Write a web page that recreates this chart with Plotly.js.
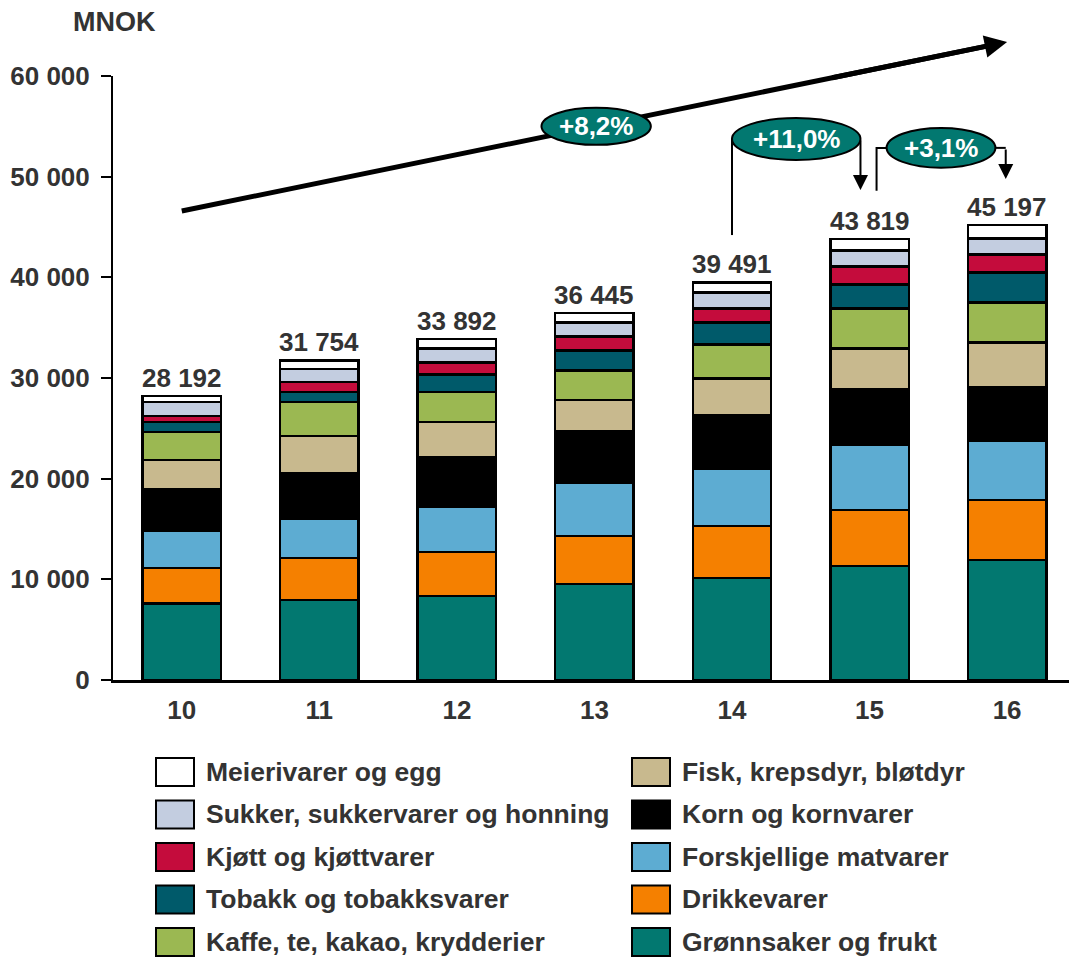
<!DOCTYPE html>
<html>
<head>
<meta charset="utf-8">
<script src="https://cdn.plot.ly/plotly-3.0.1.min.js"></script>
<style>
html,body{margin:0;padding:0;background:#fff;overflow:hidden;}
#chart{width:1069px;height:959px;}
</style>
</head>
<body>
<div id="chart"></div>
<script>
// ---- data ----
const years = ['10', '11', '12', '13', '14', '15', '16'];
const gronnsaker   = [7613, 7940, 8337, 9529, 10124, 11315, 11911];
const drikkevarer  = [3533, 4199, 4368, 4764, 5161, 5558, 5955];
const forskjellige = [3673, 3871, 4496, 5290, 5688, 6482, 5886];
const korn         = [4169, 4566, 4963, 5161, 5360, 5499, 5300];
const fisk         = [2848, 3642, 3444, 3047, 3642, 4099, 4496];
const kaffe        = [2779, 3375, 2978, 2978, 3375, 3970, 3971];
const tobakk       = [993, 1022, 1786, 1985, 2183, 2382, 2977];
const kjott        = [595, 993, 1191, 1390, 1390, 1787, 1787];
const sukker       = [1390, 1290, 1390, 1389, 1588, 1588, 1588];
const meieri       = [599, 856, 939, 912, 980, 1139, 1326];
const totals       = [28192, 31754, 33892, 36445, 39491, 43819, 45197];
const yTicks       = [0, 10000, 20000, 30000, 40000, 50000, 60000];

const seriesNames = [
  'Grønnsaker og frukt', 'Drikkevarer', 'Forskjellige matvarer', 'Korn og kornvarer',
  'Fisk, krepsdyr, bløtdyr', 'Kaffe, te, kakao, krydderier', 'Tobakk og tobakksvarer',
  'Kjøtt og kjøttvarer', 'Sukker, sukkervarer og honning', 'Meierivarer og egg'
];
const seriesValues = [gronnsaker, drikkevarer, forskjellige, korn, fisk, kaffe, tobakk, kjott, sukker, meieri];
const seriesColors = ['#027870', '#F58000', '#5DACD2', '#000000', '#C8B98E', '#9BB852', '#005A6A', '#C40C3C', '#C3CDE0', '#FFFFFF'];

const FONT = 'Liberation Sans, Arial, sans-serif';
const TXT = '#333333';

function fmt(n) { return String(Math.round(n)).replace(/\B(?=(\d{3})+(?!\d))/g, ' '); }
function pct(v) { return '+' + (v * 100).toFixed(1).replace('.', ',') + '%'; }

// ---- traces ----
const traces = seriesNames.map((name, i) => ({
  type: 'bar', name: name, x: years, y: seriesValues[i],
  marker: { color: seriesColors[i], line: { color: '#000', width: 2.5 } },
  hoverinfo: 'name+y'
}));

const sums = years.map((_, j) => seriesValues.reduce((s, arr) => s + arr[j], 0));

// ---- geometry helpers ----
const L = 113, R = 1069, T = 76, B = 680;
const XR = [-0.5, 6.45], YR = [0, 60000];
const PXU = (R - L) / (XR[1] - XR[0]);      // px per category
const VPP = (YR[1] - YR[0]) / (B - T);      // value per px
function px(x) { return (x - L) / (R - L); }
function py(y) { return (B - y) / (B - T); }
function dx(i) { return (i - XR[0]) / (XR[1] - XR[0]); }
function dy(v) { return (v - YR[0]) / (YR[1] - YR[0]); }

const annotations = [];
const shapes = [];

// totals above bars
years.forEach((yr, j) => {
  annotations.push({
    x: j, y: sums[j], xref: 'x', yref: 'y', text: '<b>' + fmt(totals[j]) + '</b>',
    showarrow: false, yanchor: 'bottom', yshift: 1,
    font: { family: FONT, size: 26, color: TXT }
  });
});

// MNOK
annotations.push({
  x: px(114), y: py(22), xref: 'paper', yref: 'paper', text: '<b>MNOK</b>',
  showarrow: false, xanchor: 'center', yanchor: 'middle',
  font: { family: FONT, size: 27, color: TXT }
});

const cagr = Math.pow(totals[6] / totals[0], 1 / 6) - 1;
const g15 = totals[5] / totals[4] - 1;
const g16 = totals[6] / totals[5] - 1;

// big trend arrow: shaft as paper-line shape (drawn under ellipses), head as annotation
const tipX = 6.0, tipY = 63380, tailX = 0, tailY = 46590;
const vxp = (tipX - tailX) * PXU, vyp = (tipY - tailY) / VPP;
const vlen = Math.sqrt(vxp * vxp + vyp * vyp);
const ux = vxp / vlen, uy = vyp / vlen;
function back(d) { return [tipX - ux * d / PXU, tipY - uy * d * VPP]; }
const shaftEnd = back(12), headTail = back(180);
shapes.push({ type: 'line', xref: 'paper', yref: 'paper',
  x0: dx(tailX), y0: dy(tailY), x1: dx(shaftEnd[0]), y1: dy(shaftEnd[1]),
  line: { color: '#000', width: 5 } });
annotations.push({
  x: tipX, y: tipY, xref: 'x', yref: 'y', ax: headTail[0], ay: headTail[1], axref: 'x', ayref: 'y',
  text: '', showarrow: true, arrowhead: 2, arrowsize: 0.9, arrowwidth: 5, arrowcolor: '#000', standoff: 0
});

const ELL = '#027870';
// ellipse +8,2%
shapes.push({ type: 'circle', xref: 'x', yref: 'y', x0: 2.615, x1: 3.41, y0: 53160, y1: 56840,
  fillcolor: ELL, line: { color: '#000', width: 2 }, layer: 'above' });
annotations.push({ x: 3.01, y: 55000, xref: 'x', yref: 'y', text: '<b>' + pct(cagr) + '</b>', showarrow: false,
  font: { family: FONT, size: 26, color: '#fff' } });

// bracket +11,0%
shapes.push({ type: 'line', xref: 'x', yref: 'y', x0: 4.0, x1: 4.0, y0: 44200, y1: 53740,
  line: { color: '#000', width: 2 } });
shapes.push({ type: 'circle', xref: 'x', yref: 'y', x0: 4.0, x1: 4.934, y0: 51657, y1: 55829,
  fillcolor: ELL, line: { color: '#000', width: 2 }, layer: 'above' });
annotations.push({ x: 4.467, y: 53740, xref: 'x', yref: 'y', text: '<b>' + pct(g15) + '</b>', showarrow: false,
  font: { family: FONT, size: 26, color: '#fff' } });
annotations.push({ x: 4.934, y: 48670, xref: 'x', yref: 'y', ax: 4.934, ay: 53740, axref: 'x', ayref: 'y',
  text: '', showarrow: true, arrowhead: 2, arrowsize: 1.5, arrowwidth: 2, arrowcolor: '#000', standoff: 0 });

// bracket +3,1%
shapes.push({ type: 'path', xref: 'x', yref: 'y', path: 'M 5.051 48607 L 5.051 52860 L 5.124 52860',
  line: { color: '#000', width: 2 } });
shapes.push({ type: 'line', xref: 'x', yref: 'y', x0: 5.915, x1: 5.99, y0: 52860, y1: 52860,
  line: { color: '#000', width: 2 } });
shapes.push({ type: 'circle', xref: 'x', yref: 'y', x0: 5.124, x1: 5.915, y0: 50892, y1: 54836,
  fillcolor: ELL, line: { color: '#000', width: 2 }, layer: 'above' });
annotations.push({ x: 5.52, y: 52860, xref: 'x', yref: 'y', text: '<b>' + pct(g16) + '</b>', showarrow: false,
  font: { family: FONT, size: 26, color: '#fff' } });
annotations.push({ x: 5.99, y: 49770, xref: 'x', yref: 'y', ax: 5.99, ay: 52860, axref: 'x', ayref: 'y',
  text: '', showarrow: true, arrowhead: 2, arrowsize: 1.5, arrowwidth: 2, arrowcolor: '#000', standoff: 0 });

// ---- custom legend (two columns, top of stack first) ----
const order = seriesNames.map((_, i) => i).reverse();
const rowY = [772, 814.5, 857, 899.5, 942];
order.forEach((si, k) => {
  const col = Math.floor(k / 5), row = k % 5;
  const bx0 = col === 0 ? 156 : 632, bx1 = bx0 + 38;
  const tx = col === 0 ? 204 : 680;
  const cy = rowY[row];
  shapes.push({ type: 'rect', xref: 'paper', yref: 'paper', x0: px(bx0), x1: px(bx1), y0: py(cy + 14), y1: py(cy - 14),
    fillcolor: seriesColors[si], line: { color: '#000', width: 2 } });
  annotations.push({ x: px(tx), y: py(cy), xref: 'paper', yref: 'paper', text: '<b>' + seriesNames[si] + '</b>',
    showarrow: false, xanchor: 'left', yanchor: 'middle', font: { family: FONT, size: 26.5, color: TXT } });
});

const layout = {
  width: 1069, height: 959,
  margin: { l: L, r: 1069 - R, t: T, b: 959 - B, pad: 0 },
  paper_bgcolor: '#fff', plot_bgcolor: '#fff',
  barmode: 'stack', bargap: 0.43,
  showlegend: false,
  separators: ', ',
  font: { family: FONT, color: TXT },
  xaxis: {
    type: 'category', range: XR, showgrid: false, zeroline: false,
    showline: true, linecolor: '#000', linewidth: 2.5, ticks: '',
    tickmode: 'array', tickvals: years, ticktext: years.map(y => '<b>' + y + '</b>'),
    tickfont: { family: FONT, size: 26, color: TXT }, ticklabelstandoff: 5
  },
  yaxis: {
    range: YR, showgrid: false, zeroline: false,
    showline: true, linecolor: '#000', linewidth: 2, ticks: 'outside', ticklen: 10, tickwidth: 2, tickcolor: '#000',
    tickmode: 'array', tickvals: yTicks, ticktext: yTicks.map(v => '<b>' + fmt(v) + '</b>'),
    tickfont: { family: FONT, size: 26, color: TXT }, ticklabelstandoff: 6
  },
  annotations: annotations,
  shapes: shapes
};

Plotly.newPlot('chart', traces, layout, { displayModeBar: false, staticPlot: true });
</script>
</body>
</html>
